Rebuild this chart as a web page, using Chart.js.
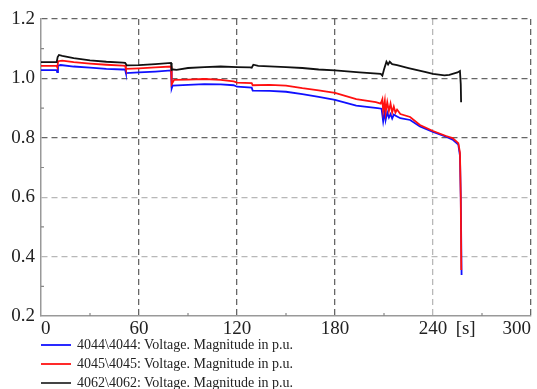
<!DOCTYPE html>
<html lang="en">
<head>
  <meta charset="UTF-8" />
  <title>Voltage magnitude p.u.</title>
  <style>
    body { margin: 0; background: #fff; }
    #wrap { position: relative; width: 537px; height: 389px; }
    #legend {
      position: absolute; left: 41px; top: 335px;
      font-family: "Liberation Serif", serif; font-size: 14px; color: #222;
    }
    .row { height: 19px; display: flex; align-items: center; }
    .swatch { width: 30px; height: 2px; margin-right: 6px; }
  </style>
  <script src="https://cdn.jsdelivr.net/npm/chart.js"></script>
</head>
<body>
  <div id="wrap">
    <canvas id="chart" width="537" height="389"></canvas>
    <div id="legend"></div>
  </div>

  <script>
    // series: time [s] and voltage magnitude [p.u.]
    const tBlue = [0, 9.6, 9.9, 10.4, 12, 20, 30, 40, 50, 51.5, 52, 60, 70, 79.6, 80, 80.6, 90, 100, 110, 118, 120, 129, 129.6, 140, 150, 160, 170, 180, 193, 206, 208.5, 209.5, 210.5, 211, 212, 213, 214, 215, 216, 218, 220, 226, 232, 240, 248, 252, 255.5, 256.5, 257, 257.5];
    const vBlue = [1.028, 1.028, 1.021, 1.043, 1.045, 1.04, 1.036, 1.032, 1.03, 1.03, 1.018, 1.02, 1.023, 1.027, 0.966, 0.976, 0.978, 0.981, 0.98, 0.977, 0.972, 0.969, 0.959, 0.958, 0.955, 0.947, 0.938, 0.928, 0.908, 0.9, 0.898, 0.855, 0.89, 0.86, 0.885, 0.868, 0.88, 0.865, 0.878, 0.872, 0.866, 0.86, 0.838, 0.82, 0.804, 0.794, 0.777, 0.74, 0.6, 0.338];

    const tRed = [0, 9.6, 10, 10.5, 13, 20, 30, 40, 50, 51.5, 52, 60, 70, 79.6, 80, 80.5, 81.5, 90, 100, 110, 118, 120, 129, 129.6, 140, 150, 160, 170, 180, 193, 205, 208, 209, 209.5, 210.5, 211, 212, 213, 214, 215, 216, 217, 218, 220, 226, 232, 240, 248, 252, 255.5, 256.5, 257, 257.3];
    const vRed = [1.042, 1.042, 1.037, 1.058, 1.06, 1.055, 1.05, 1.046, 1.043, 1.042, 1.032, 1.034, 1.037, 1.04, 0.98, 0.985, 0.995, 0.996, 0.998, 0.995, 0.99, 0.986, 0.984, 0.977, 0.978, 0.976, 0.967, 0.96, 0.951, 0.93, 0.92, 0.915, 0.93, 0.89, 0.925, 0.885, 0.92, 0.89, 0.915, 0.885, 0.905, 0.885, 0.895, 0.88, 0.87, 0.843, 0.823, 0.806, 0.799, 0.782, 0.75, 0.6, 0.355];

    const tBlack = [0, 9.6, 10.2, 11, 13, 20, 30, 40, 50, 51.5, 52.5, 60, 70, 79.6, 80, 81, 83, 90, 100, 110, 120, 128, 129, 130, 133, 150, 160, 170, 180, 195, 208, 209, 210, 211.5, 212.5, 213.5, 215, 218, 225, 235, 240, 247, 250, 255, 256.5, 257, 257.2];
    const vBlack = [1.055, 1.055, 1.072, 1.079, 1.076, 1.068, 1.061, 1.056, 1.053, 1.052, 1.044, 1.045, 1.048, 1.052, 1.028, 1.03, 1.029, 1.035, 1.038, 1.04, 1.038, 1.037, 1.036, 1.046, 1.042, 1.038, 1.035, 1.03, 1.027, 1.02, 1.015, 1.009, 1.03, 1.056, 1.047, 1.056, 1.048, 1.045, 1.035, 1.022, 1.015, 1.01, 1.012, 1.02, 1.025, 0.98, 0.92];

    const seriesNames = [
      "4044\\4044: Voltage. Magnitude in p.u.",
      "4045\\4045: Voltage. Magnitude in p.u.",
      "4062\\4062: Voltage. Magnitude in p.u."
    ];
    const seriesColors = ["#1010ff", "#ff1010", "#111111"];
    const legendColors = ["#2a2aff", "#ff2a2a", "#444444"];

    // axis ticks
    const xTicks = [0, 60, 120, 180, 240, 260, 300];
    const xUnitAt = 260;           // where "[s]" sits
    const xUnitLabel = "[s]";
    const xMinor = [30, 90, 150, 210, 270];
    const yMinor = [0.3, 0.5, 0.7, 0.9, 1.1];
    const lightX = [240];
    const lightY = [0.4, 0.6];

    const pts = (t, v) => t.map((x, i) => ({ x: x, y: v[i] }));

    // legend below the plot
    const legend = document.getElementById("legend");
    seriesNames.forEach((name, i) => {
      const row = document.createElement("div");
      row.className = "row";
      row.innerHTML = `<span class="swatch" style="background:${legendColors[i]}"></span><span></span>`;
      row.lastChild.textContent = name;
      legend.appendChild(row);
    });

    // small inner tick marks between the labelled ones
    const minorTicks = {
      id: "minorTicks",
      afterDraw(chart) {
        const { ctx, chartArea: a, scales } = chart;
        ctx.save();
        ctx.strokeStyle = "#888";
        ctx.lineWidth = 1.2;
        ctx.beginPath();
        xMinor.forEach(v => {
          const x = scales.x.getPixelForValue(v);
          ctx.moveTo(x, a.bottom); ctx.lineTo(x, a.bottom - 3);
        });
        yMinor.forEach(v => {
          const y = scales.y.getPixelForValue(v);
          ctx.moveTo(a.left, y); ctx.lineTo(a.left + 3, y);
        });
        ctx.stroke();
        ctx.restore();
      }
    };

    const near = (a, b) => Math.abs(a - b) < 1e-6;
    const tickFont = { family: '"Liberation Serif", "Times New Roman", serif', size: 19 };

    function draw() {
      new Chart(document.getElementById("chart"), {
        type: "line",
        data: {
          datasets: [
            { label: seriesNames[0], data: pts(tBlue, vBlue), borderColor: seriesColors[0], order: 2 },
            { label: seriesNames[1], data: pts(tRed, vRed), borderColor: seriesColors[1], order: 1 },
            { label: seriesNames[2], data: pts(tBlack, vBlack), borderColor: seriesColors[2], order: 0 }
          ]
        },
        options: {
          responsive: false,
          animation: false,
          layout: { padding: { top: 19, right: 6, left: 0, bottom: 0 } },
          elements: {
            point: { radius: 0 },
            line: { borderWidth: 1.8, tension: 0 }
          },
          plugins: { legend: { display: false }, tooltip: { enabled: false } },
          scales: {
            x: {
              type: "linear",
              min: 0, max: 300,
              afterBuildTicks: s => { s.ticks = xTicks.map(v => ({ value: v })); },
              afterFit: s => { s.height = 73; },
              ticks: {
                align: "inner",
                padding: 2,
                color: "#222",
                font: tickFont,
                callback: v => v === xUnitAt ? xUnitLabel : String(v)
              },
              grid: {
                drawTicks: false,
                lineWidth: 1.3,
                color: c => {
                  const v = c.tick ? c.tick.value : null;
                  if (v === 0 || v === xUnitAt) return "rgba(0,0,0,0)";
                  return lightX.includes(v) ? "#b8b8b8" : "#666";
                },
                borderDash: [6, 4]
              },
              border: { display: true, color: "#999", width: 1.5, dash: [6, 4] }
            },
            y: {
              min: 0.2, max: 1.2,
              ticks: {
                stepSize: 0.2,
                padding: 6,
                color: "#222",
                font: tickFont,
                callback: v => Number(v).toFixed(1)
              },
              afterFit: s => { s.width = 41; },
              grid: {
                drawTicks: false,
                lineWidth: 1.3,
                color: c => {
                  const v = c.tick ? c.tick.value : null;
                  if (v === null || near(v, 0.2)) return "rgba(0,0,0,0)";
                  return lightY.some(l => near(l, v)) ? "#b8b8b8" : "#666";
                },
                borderDash: [6, 4]
              },
              border: { display: true, color: "#999", width: 1.5, dash: [6, 4] }
            }
          }
        },
        plugins: [minorTicks]
      });
    }

    document.fonts.load('19px "Liberation Serif"').then(draw, draw);
  </script>
</body>
</html>
